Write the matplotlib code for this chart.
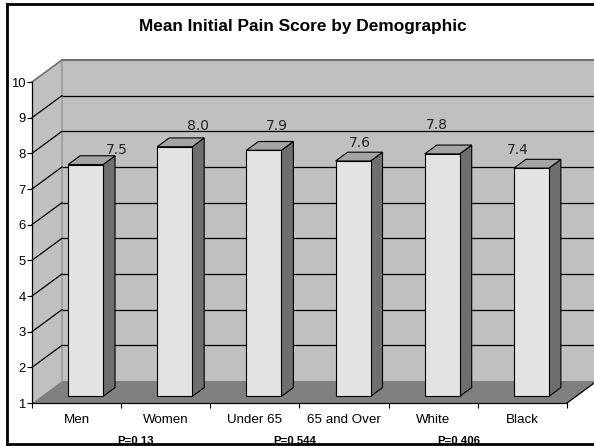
import matplotlib
matplotlib.use("Agg")
import matplotlib.pyplot as plt
from matplotlib.patches import Polygon
from matplotlib.lines import Line2D

# ---- data ----
categories = ["Men", "Women", "Under 65", "65 and Over", "White", "Black"]
mean_scores = [7.5, 8.0, 7.9, 7.6, 7.8, 7.4]
p_labels = ["P=0.13", "P=0.544", "P=0.406"]
y_ticks = list(range(1, 11))
title = "Mean Initial Pain Score by Demographic"

# ---- layout / style ----
W, H = 594, 446
DPI = 100
FONT = "Liberation Sans"
wall_col = "#c0c0c0"
floor_col = "#808080"
front_col = "#e3e3e3"
side_col = "#6e6e6e"
top_col = "#a4a4a4"

# depth of the box (in data units: categories along x, score along y)
ddx, ddy = 0.336, 0.617
f0, f1 = 0.3, 0.7          # front/back depth fractions of each bar
half_w = 0.196             # half bar width in category units
ymin, ymax = 1, 10
x0, x1 = -0.5, len(categories) - 0.5

# offsets for the value labels (data units, relative to bar index / value)
label_dx = [0.45, 0.36, 0.25, 0.18, 0.04, -0.05]
label_dy = [0.59, 0.77, 0.87, 0.69, 1.00, 0.69]
# positions of the p-value labels (category units)
p_x = [0.66, 2.45, 4.29]

fig = plt.figure(figsize=(W / DPI, H / DPI), dpi=DPI)
fig.patch.set_facecolor("white")

left_px, right_px, top_px, bottom_px = 32, 567, 82, 403
ax = fig.add_axes([left_px / W, 1 - bottom_px / H,
                   (right_px - left_px) / W, (bottom_px - top_px) / H])
ax.set_xlim(x0, x1)
ax.set_ylim(ymin, ymax)
ax.patch.set_alpha(0)

# walls and floor
back = Polygon([(x0 + ddx, ymin + ddy), (x1 + ddx, ymin + ddy),
                (x1 + ddx, ymax + ddy), (x0 + ddx, ymax + ddy)],
               closed=True, fc=wall_col, ec="none", zorder=0.5, clip_on=False)
side = Polygon([(x0, ymin), (x0 + ddx, ymin + ddy),
                (x0 + ddx, ymax + ddy), (x0, ymax)],
               closed=True, fc=wall_col, ec="none", zorder=0.5, clip_on=False)
floor = Polygon([(x0, ymin), (x1, ymin), (x1 + ddx, ymin + ddy), (x0 + ddx, ymin + ddy)],
                closed=True, fc=floor_col, ec="none", zorder=0.6, clip_on=False)
for p in (back, side, floor):
    ax.add_patch(p)

# gridlines on back and left walls
for v in y_ticks[1:-1]:
    ax.plot([x0 + ddx, x1 + ddx], [v + ddy, v + ddy], color="black", lw=0.9,
            zorder=0.8, clip_on=False, solid_capstyle="butt")
    ax.plot([x0, x0 + ddx], [v, v + ddy], color="black", lw=0.9,
            zorder=0.8, clip_on=False)
# top edges of the walls and back corner
ax.plot([x0 + ddx, x1 + ddx], [ymax + ddy, ymax + ddy], color="#707070", lw=1.5,
        zorder=0.8, clip_on=False)
ax.plot([x0, x0 + ddx], [ymax, ymax + ddy], color="#707070", lw=1.2,
        zorder=0.8, clip_on=False)
ax.plot([x0 + ddx, x0 + ddx], [ymin + ddy, ymax + ddy], color="#9a9a9a", lw=1.2,
        zorder=0.7, clip_on=False)
# floor front-right edge
ax.plot([x1, x1 + ddx], [ymin, ymin + ddy], color="black", lw=0.9,
        zorder=0.9, clip_on=False)

# bars
for i, v in enumerate(mean_scores):
    xl = i - half_w
    xr = i + half_w
    front = Polygon([(xl + f0 * ddx, ymin + f0 * ddy), (xr + f0 * ddx, ymin + f0 * ddy),
                     (xr + f0 * ddx, v + f0 * ddy), (xl + f0 * ddx, v + f0 * ddy)],
                    closed=True, fc=front_col, ec="black", lw=0.8, zorder=3)
    rside = Polygon([(xr + f0 * ddx, ymin + f0 * ddy), (xr + f1 * ddx, ymin + f1 * ddy),
                     (xr + f1 * ddx, v + f1 * ddy), (xr + f0 * ddx, v + f0 * ddy)],
                    closed=True, fc=side_col, ec="black", lw=0.8, zorder=2.9)
    top = Polygon([(xl + f0 * ddx, v + f0 * ddy), (xr + f0 * ddx, v + f0 * ddy),
                   (xr + f1 * ddx, v + f1 * ddy), (xl + f1 * ddx, v + f1 * ddy)],
                  closed=True, fc=top_col, ec="black", lw=0.8, zorder=2.9)
    for p in (rside, top, front):
        ax.add_patch(p)
    ax.text(i + label_dx[i], v + label_dy[i], f"{v:.1f}", ha="center", va="center",
            fontsize=10, family="DejaVu Sans", color="#222222", zorder=4)

# axes
for s in ("top", "right"):
    ax.spines[s].set_visible(False)
for s in ("left", "bottom"):
    ax.spines[s].set_color("black")
    ax.spines[s].set_linewidth(0.9)
    ax.spines[s].set_zorder(5)

ax.set_yticks(y_ticks)
ax.set_yticklabels([str(t) for t in y_ticks], family=FONT, fontsize=9.4)
ax.tick_params(axis="y", direction="out", length=3.6, width=0.8, pad=1.0, colors="black")

ax.set_xticks([k - 0.5 for k in range(len(categories) + 1)])
ax.set_xticklabels([""] * (len(categories) + 1))
ax.tick_params(axis="x", which="major", direction="out", length=3.6, width=0.8)
ax.set_xticks(range(len(categories)), minor=True)
ax.set_xticklabels(categories, minor=True, family=FONT, fontsize=9.6)
ax.tick_params(axis="x", which="minor", length=0, pad=8.0)

# p-values under the category labels
for px, lab in zip(p_x, p_labels):
    ax.text(px, 1 - (436 - bottom_px) / ((bottom_px - top_px) / (ymax - ymin)), lab,
            ha="center", va="top", fontsize=8.2, fontweight="bold", family=FONT,
            clip_on=False, zorder=4)

# title
fig.text(303 / W, 1 - 27 / H, title, ha="center", va="center", fontsize=12.4,
         fontweight="bold", family=FONT)

# outer frame
fy_top, fy_bot, fx_left = 1 - 4 / H, 1 - 444 / H, 7 / W
for xs, ys in (([fx_left, 1.01], [fy_top, fy_top]),
               ([fx_left, 1.01], [fy_bot, fy_bot]),
               ([fx_left, fx_left], [fy_bot, fy_top])):
    fig.add_artist(Line2D(xs, ys, transform=fig.transFigure, color="black",
                          lw=2.0, zorder=10, solid_capstyle="projecting"))

fig.savefig("out.png", dpi=DPI)
